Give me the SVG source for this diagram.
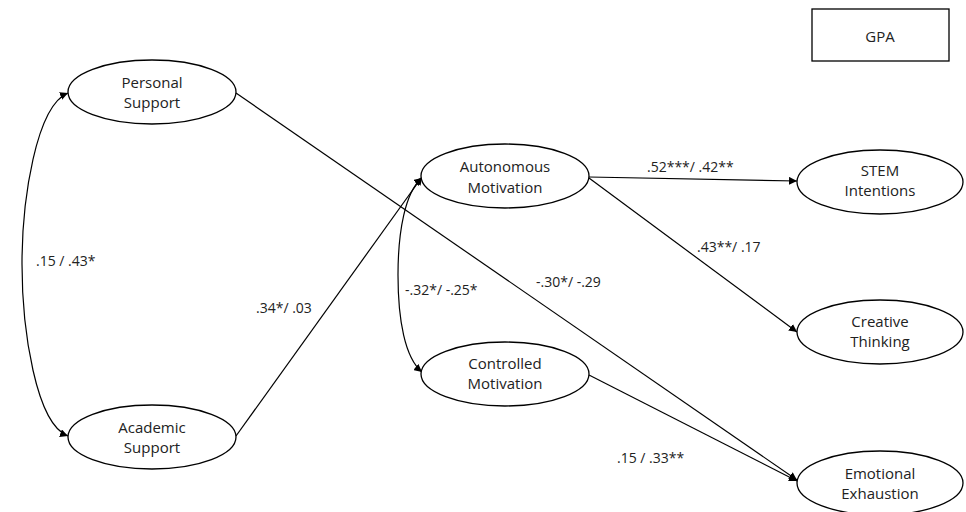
<svg xmlns="http://www.w3.org/2000/svg" width="966" height="512" viewBox="0 0 966 512">
  <defs>
    <marker id="arrow" viewBox="0 0 10 10" refX="10" refY="5" markerWidth="8" markerHeight="8" markerUnits="userSpaceOnUse" orient="auto-start-reverse">
      <path d="M0,0 L10,5 L0,10 z" fill="#000"/>
    </marker>
    <style>
      .node ellipse, .node rect { fill: #fff; stroke: #000; stroke-width: 1.3; }
      .label { font-family: "Open Sans", "Liberation Sans", sans-serif; font-size: 15px; fill: #222; text-anchor: middle; }
      .coef { font-family: "Open Sans", "Liberation Sans", sans-serif; font-size: 14px; fill: #222; }
      .edge { fill: none; stroke: #000; stroke-width: 1.2; }
    </style>
  </defs>
  <rect width="966" height="512" fill="#fff"/>

  <g id="connectors">
    <!-- covariance between the two support factors -->
    <path class="edge" d="M68,93 C36,106 22,200 22,264 C22,330 36,424 68,436" marker-start="url(#arrow)" marker-end="url(#arrow)"/>
    <!-- covariance between the two motivation factors -->
    <path class="edge" d="M422,178 C405,192 398,232 398,275 C398,320 405,358 422,372" marker-start="url(#arrow)" marker-end="url(#arrow)"/>
    <line class="edge" x1="236" y1="93" x2="797" y2="480" marker-end="url(#arrow)"/>
    <line class="edge" x1="236" y1="436" x2="422" y2="177" marker-end="url(#arrow)"/>
    <line class="edge" x1="589" y1="177" x2="797" y2="181" marker-end="url(#arrow)"/>
    <line class="edge" x1="589" y1="178" x2="797" y2="332" marker-end="url(#arrow)"/>
    <line class="edge" x1="589" y1="375" x2="797" y2="481" marker-end="url(#arrow)"/>
  </g>

  <g id="coefficients">
    <text class="coef" x="36" y="266">.15 / .43*</text>
    <text class="coef" x="256" y="313">.34*/ .03</text>
    <text class="coef" x="536" y="287">-.30*/ -.29</text>
    <text class="coef" x="405" y="295">-.32*/ -.25*</text>
    <text class="coef" x="647" y="172">.52***/ .42**</text>
    <text class="coef" x="697" y="252">.43**/ .17</text>
    <text class="coef" x="617" y="463">.15 / .33**</text>
  </g>

  <g id="personal-support" class="node">
    <ellipse cx="152" cy="92" rx="84" ry="32"/>
    <text class="label" x="152" y="88">Personal</text>
    <text class="label" x="152" y="108">Support</text>
  </g>
  <g id="academic-support" class="node">
    <ellipse cx="152" cy="437" rx="84" ry="32"/>
    <text class="label" x="152" y="433">Academic</text>
    <text class="label" x="152" y="453">Support</text>
  </g>
  <g id="autonomous-motivation" class="node">
    <ellipse cx="505" cy="176" rx="84" ry="32"/>
    <text class="label" x="505" y="172">Autonomous</text>
    <text class="label" x="505" y="193">Motivation</text>
  </g>
  <g id="controlled-motivation" class="node">
    <ellipse cx="505" cy="374" rx="84" ry="32"/>
    <text class="label" x="505" y="369">Controlled</text>
    <text class="label" x="505" y="389">Motivation</text>
  </g>
  <g id="stem-intentions" class="node">
    <ellipse cx="880" cy="182" rx="83" ry="32"/>
    <text class="label" x="880" y="176">STEM</text>
    <text class="label" x="880" y="196">Intentions</text>
  </g>
  <g id="creative-thinking" class="node">
    <ellipse cx="880" cy="332" rx="83" ry="32"/>
    <text class="label" x="880" y="327">Creative</text>
    <text class="label" x="880" y="347">Thinking</text>
  </g>
  <g id="emotional-exhaustion" class="node">
    <ellipse cx="880" cy="483" rx="83" ry="32"/>
    <text class="label" x="880" y="479">Emotional</text>
    <text class="label" x="880" y="499">Exhaustion</text>
  </g>
  <g id="gpa" class="node">
    <rect x="812" y="9" width="137" height="52"/>
    <text class="label" x="880" y="42">GPA</text>
  </g>
</svg>
